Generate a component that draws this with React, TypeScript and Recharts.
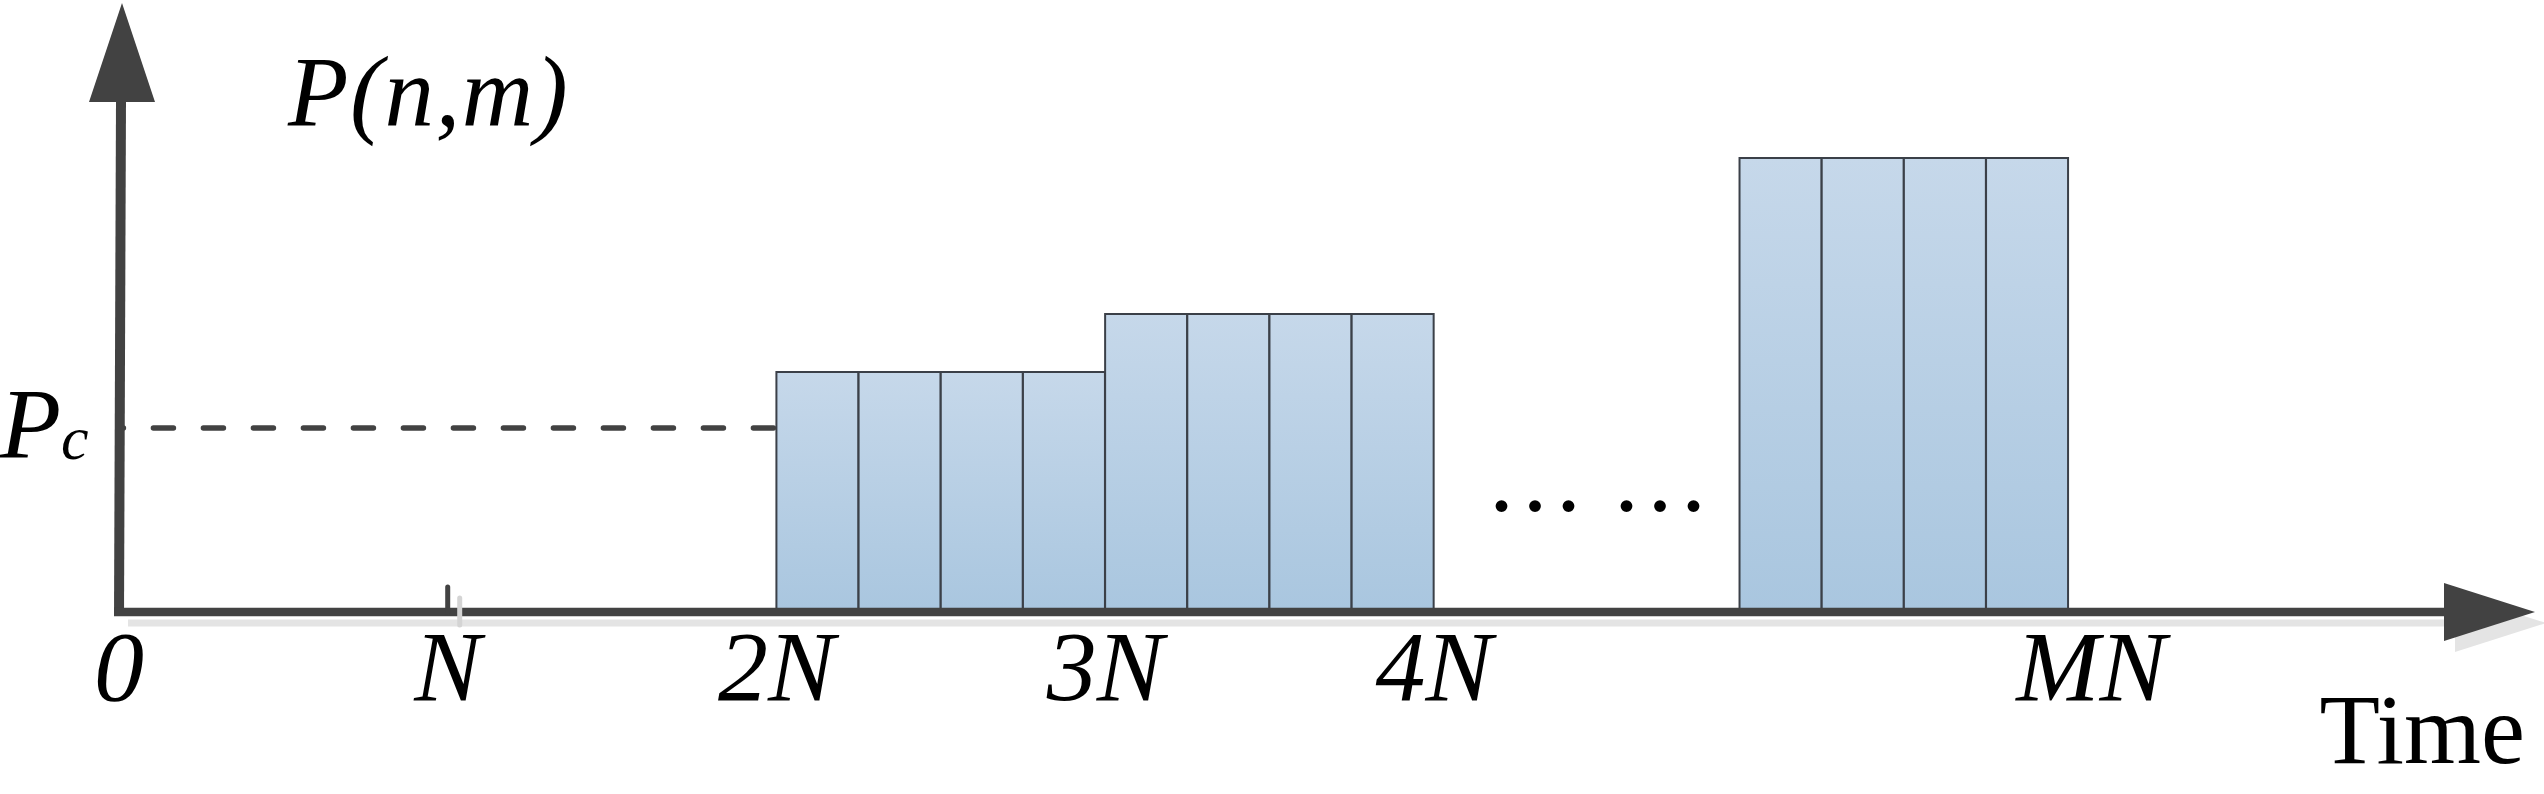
import { ComposedChart, Bar, XAxis, YAxis, ReferenceLine } from "recharts";

// time slots in units of N, power in arbitrary units
const slotStart = [2, 2.25, 2.5, 2.75, 3, 3.25, 3.5, 3.75, 4.93, 5.18, 5.43, 5.68];
const slotPower = [2.4, 2.4, 2.4, 2.4, 2.98, 2.98, 2.98, 2.98, 4.54, 4.54, 4.54, 4.54];
const slotWidth = 0.25;
const pcLevel = 1.84;
const pcEnd = 2;
const tickValues = [0, 1, 2, 3, 4, 6];
const tickLabels = ["0", "N", "2N", "3N", "4N", "MN"];
const tickMarks = [1];
const tickMarkHeight = 0.25;
const xMax = 7.35;
const yMax = 6.09;

const serif = '"Liberation Serif", "Times New Roman", serif';
const axisColor = "#424242";
const shadowColor = "#e4e4e4";

const data = slotStart.map((s, i) => ({ t: s + slotWidth / 2, p: slotPower[i] }));

const XArrow = (props: any) => {
  const left = Math.min(props.x1, props.x2) - 5;
  const right = Math.max(props.x1, props.x2);
  const y = props.y1;
  const head = 91;
  const half = 29;
  const sh = 11;
  return (
    <g>
      <line x1={left + 14} y1={y + sh} x2={right - head + sh} y2={y + sh} stroke={shadowColor} strokeWidth={7} />
      <polygon
        points={`${right - head + sh},${y - half + sh} ${right + sh},${y + sh} ${right - head + sh},${y + half + sh}`}
        fill={shadowColor}
      />
      <line x1={left} y1={y} x2={right - head + 2} y2={y} stroke={axisColor} strokeWidth={8.5} />
      <polygon points={`${right - head},${y - half} ${right},${y} ${right - head},${y + half}`} fill={axisColor} />
    </g>
  );
};

const YArrow = (props: any) => {
  const x = props.x1;
  const top = Math.min(props.y1, props.y2);
  const bottom = Math.max(props.y1, props.y2);
  const head = 99;
  const half = 33;
  return (
    <g>
      <line x1={x} y1={bottom + 4} x2={x + 2} y2={top + head - 2} stroke={axisColor} strokeWidth={10} />
      <polygon points={`${x + 3 - half},${top + head} ${x + 3},${top} ${x + 3 + half},${top + head}`} fill={axisColor} />
    </g>
  );
};

const TickMark = (props: any) => {
  const x = props.x1;
  const top = Math.min(props.y1, props.y2);
  const bottom = Math.max(props.y1, props.y2);
  return (
    <g>
      <line x1={x + 12} y1={top + 11} x2={x + 12} y2={bottom + 13} stroke="#d4d4d4" strokeWidth={5} strokeLinecap="round" />
      <line x1={x} y1={top} x2={x} y2={bottom} stroke={axisColor} strokeWidth={5} strokeLinecap="round" />
    </g>
  );
};

export default function App() {
  return (
    <div style={{ position: "relative", width: 2544, height: 794 }}>
      <style>{"body{margin:0}"}</style>
      <ComposedChart
        width={2544}
        height={794}
        data={data}
        margin={{ top: 3, right: 9, bottom: 0, left: 119 }}
        barCategoryGap={0}
        barGap={0}
      >
        <defs>
          <linearGradient id="barFill" x1="0" y1="0" x2="0" y2="1">
            <stop offset="0%" stopColor="#c6d8ea" />
            <stop offset="100%" stopColor="#a9c6df" />
          </linearGradient>
        </defs>
        <XAxis
          type="number"
          dataKey="t"
          domain={[0, xMax]}
          ticks={tickValues}
          tickFormatter={(v: number) => tickLabels[tickValues.indexOf(v)]}
          interval={0}
          axisLine={false}
          tickLine={false}
          tickSize={0}
          tickMargin={17}
          height={182}
          tick={{ fontFamily: serif, fontStyle: "italic", fontSize: 100, fill: "#000" }}
        />
        <YAxis type="number" domain={[0, yMax]} hide />
        <ReferenceLine
          segment={[{ x: pcEnd, y: pcLevel }, { x: 0, y: pcLevel }]}
          stroke={axisColor}
          strokeWidth={5.5}
          strokeDasharray="20 30"
          strokeLinecap="round"
          strokeDashoffset={-3}
        />
        <Bar dataKey="p" fill="url(#barFill)" stroke="#3b4048" strokeWidth={2} isAnimationActive={false} />
        <ReferenceLine x={0} shape={YArrow} ifOverflow="visible" />
        <ReferenceLine y={0} shape={XArrow} ifOverflow="visible" />
        {tickMarks.map((m) => (
          <ReferenceLine
            key={m}
            segment={[{ x: m, y: 0 }, { x: m, y: tickMarkHeight }]}
            shape={TickMark}
            ifOverflow="visible"
          />
        ))}
      </ComposedChart>
      <svg
        width={2544}
        height={794}
        style={{ position: "absolute", left: 0, top: 0, pointerEvents: "none" }}
      >
        <text x={288} y={125} fontFamily={serif} fontStyle="italic" fontSize={99} letterSpacing={1.5}>
          P(n,m)
        </text>
        <text x={0} y={457} fontFamily={serif} fontStyle="italic" fontSize={100}>
          P
          <tspan fontSize={62} dy={2}>
            c
          </tspan>
        </text>
        <text x={1485} y={511} fontFamily={serif} fontSize={100}>
          … …
        </text>
        <text x={2525} y={763} textAnchor="end" fontFamily={serif} fontSize={99}>
          Time
        </text>
      </svg>
    </div>
  );
}
